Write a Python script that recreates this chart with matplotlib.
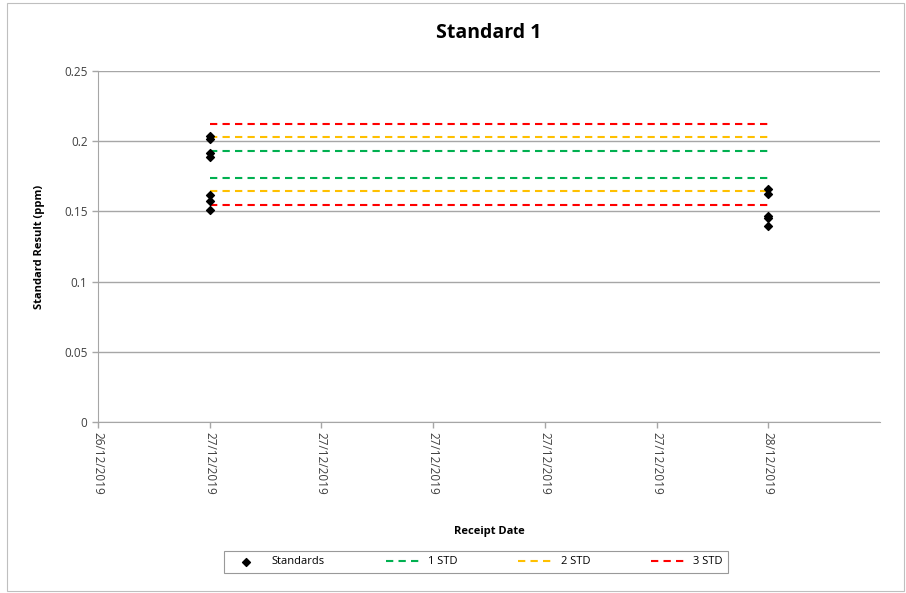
import numpy as np
import matplotlib
matplotlib.use("Agg")
import matplotlib.pyplot as plt
import matplotlib.dates as mdates
from matplotlib.patches import Rectangle
from datetime import datetime, timedelta

plt.rcParams['font.family'] = ['Open Sans', 'DejaVu Sans']

# data
dates = [datetime(2019, 12, 27)] * 7 + [datetime(2019, 12, 28)] * 5
values = [0.2037, 0.2016, 0.1916, 0.1887, 0.1617, 0.1574, 0.1510,
          0.1660, 0.1624, 0.1467, 0.1453, 0.1396]

line_dates = [datetime(2019, 12, 27), datetime(2019, 12, 28)]
std1 = [0.1928, 0.1735]
std2 = [0.2028, 0.1643]
std3 = [0.2124, 0.1546]

x_start = datetime(2019, 12, 27) - timedelta(hours=4.8)
x_end = datetime(2019, 12, 28) + timedelta(hours=4.8)

fig = plt.figure(figsize=(9.06, 5.93), dpi=100)
ax = fig.add_axes([98/906, 1 - 422/593, (880-98)/906, (422-71)/593])

fig.patches.append(Rectangle((7/906, 2/593), 897/906, 588/593, transform=fig.transFigure,
                             fill=False, edgecolor='#bfbfbf', linewidth=0.8))

ax.scatter(dates, values, marker='D', s=16, color='black', zorder=5, label='Standards')
for vals, col, lab in [(std1, '#00b050', '1 STD'), (std2, '#ffc000', '2 STD'), (std3, '#ff0000', '3 STD')]:
    for v in vals:
        ax.plot(line_dates, [v, v], linestyle=(0, (3.5, 2.5)), color=col, linewidth=1.5,
                label=lab if v == vals[0] else None)

ax.set_ylim(0, 0.25)
ax.set_yticks([0, 0.05, 0.1, 0.15, 0.2, 0.25])
ax.set_yticklabels(['0', '0.05', '0.1', '0.15', '0.2', '0.25'])
ax.set_xlim(mdates.date2num(x_start), mdates.date2num(x_end))
ticks = [mdates.date2num(x_start) + i * 0.2 for i in range(7)]
ax.set_xticks(ticks)
ax.xaxis.set_major_formatter(mdates.DateFormatter('%d/%m/%Y'))
plt.setp(ax.get_xticklabels(), rotation=-90, fontsize=8.5, color='#404040')
plt.setp(ax.get_yticklabels(), fontsize=8.5, color='#404040')

ax.grid(axis='y', color='#a6a6a6', linewidth=1)
ax.set_axisbelow(True)
for s in ['top', 'right']:
    ax.spines[s].set_visible(False)
for s in ['left', 'bottom']:
    ax.spines[s].set_color('#a6a6a6')
ax.tick_params(axis='both', color='#a6a6a6', length=4, width=1)

ax.set_title('Standard 1', fontsize=14, fontweight='bold', pad=24)
ax.set_ylabel('Standard Result (ppm)', fontsize=8, fontweight='bold', labelpad=14)
ax.set_xlabel('Receipt Date', fontsize=8, fontweight='bold', labelpad=22)

leg = fig.legend(loc='center', bbox_to_anchor=(476/906, 1 - 562/593), ncol=4, fontsize=8,
                 frameon=True, fancybox=False, edgecolor='#808080', handlelength=3,
                 columnspacing=5.5, borderpad=0.5, borderaxespad=0)
leg.get_frame().set_linewidth(0.8)

fig.savefig('out.png', dpi=100)
